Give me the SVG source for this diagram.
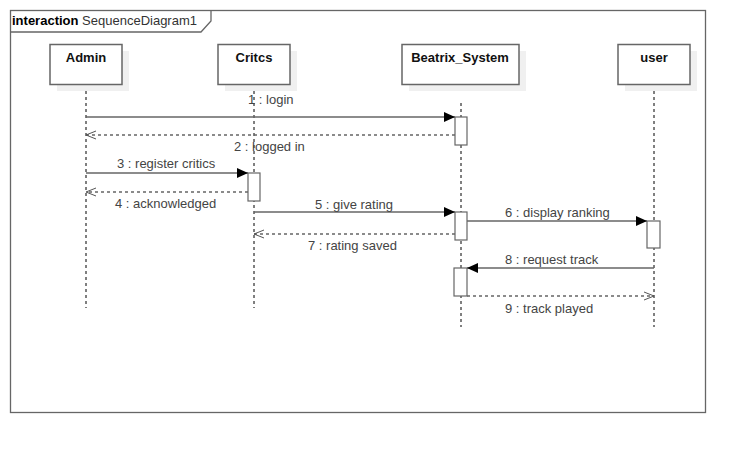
<svg xmlns="http://www.w3.org/2000/svg" width="746" height="453" viewBox="0 0 746 453">
<defs>
<marker id="filled" markerWidth="12" markerHeight="10" refX="11" refY="5" orient="auto" markerUnits="userSpaceOnUse">
<path d="M0,0 L11,5 L0,10 Z" fill="#000"/>
</marker>
<marker id="open" markerWidth="12" markerHeight="10" refX="10" refY="5" orient="auto" markerUnits="userSpaceOnUse">
<path d="M0,1 L10,5 L0,9" fill="none" stroke="#555" stroke-width="1"/>
</marker>
</defs>
<style>
text{font-family:"Liberation Sans",Arial,sans-serif;font-size:13px}
.lbl{fill:#444}
.name{font-weight:bold;fill:#111;text-anchor:middle}
.box{fill:#fff;stroke:#666;stroke-width:1.5}
.shadow{fill:#f0f0f0}
.life{stroke:#000;stroke-width:1;stroke-dasharray:3,3;fill:none}
.act{fill:#fff;stroke:#666;stroke-width:1.2}
.msg{stroke:#666;stroke-width:1.3;fill:none}
.ret{stroke:#666;stroke-width:1.3;fill:none;stroke-dasharray:3,3}
</style>
<rect width="746" height="453" fill="#fff"/>
<g id="frame">
<rect x="10.5" y="10.5" width="695" height="402" fill="none" stroke="#666" stroke-width="1.3"/>
<path d="M10.5,32 L201,32 L211,21 L211,10.5" fill="none" stroke="#666" stroke-width="1.3"/>
<text x="12" y="25" fill="#000"><tspan font-weight="bold">interaction</tspan><tspan fill="#333"> SequenceDiagram1</tspan></text>
</g>
<g id="lifelines">
<path class="life" d="M86,85 V308"/>
<path class="life" d="M254,85 V308"/>
<path class="life" d="M461,103 V327"/>
<path class="life" d="M654,85 V327"/>
</g>
<g id="Admin">
<rect class="shadow" x="57" y="51" width="72" height="40"/>
<rect class="box" x="50" y="44.5" width="72" height="40"/>
<text class="name" x="86" y="62">Admin</text>
</g>
<g id="Critcs">
<rect class="shadow" x="225" y="51" width="72" height="40"/>
<rect class="box" x="218" y="44.5" width="72" height="40"/>
<text class="name" x="254" y="62">Critcs</text>
</g>
<g id="Beatrix_System">
<rect class="shadow" x="409" y="51" width="117" height="40"/>
<rect class="box" x="402" y="44.5" width="117" height="40"/>
<text class="name" x="460" y="62">Beatrix_System</text>
</g>
<g id="user">
<rect class="shadow" x="625" y="51" width="72" height="40"/>
<rect class="box" x="618" y="44.5" width="72" height="40"/>
<text class="name" x="654" y="62">user</text>
</g>
<g id="activations">
<rect class="act" x="455" y="117" width="12" height="28"/>
<rect class="act" x="248" y="173" width="12" height="28"/>
<rect class="act" x="455" y="212" width="12" height="28"/>
<rect class="act" x="647" y="221" width="13" height="27"/>
<rect class="act" x="454" y="268" width="13" height="28"/>
</g>
<g id="connectors">
<path class="msg" d="M86,117 H455" marker-end="url(#filled)"/>
<path class="ret" d="M455,135 H86" marker-end="url(#open)"/>
<path class="msg" d="M86,173 H248" marker-end="url(#filled)"/>
<path class="ret" d="M248,192 H86" marker-end="url(#open)"/>
<path class="msg" d="M254,212 H455" marker-end="url(#filled)"/>
<path class="msg" d="M467,221 H647" marker-end="url(#filled)"/>
<path class="ret" d="M455,234 H254" marker-end="url(#open)"/>
<path class="msg" d="M654,268 H467" marker-end="url(#filled)"/>
<path class="ret" d="M467,296 H654" marker-end="url(#open)"/>
</g>
<g id="labels">
<text class="lbl" x="248" y="104">1 : login</text>
<text class="lbl" x="234" y="151">2 : logged in</text>
<text class="lbl" x="117" y="168">3 : register critics</text>
<text class="lbl" x="115" y="208">4 : acknowledged</text>
<text class="lbl" x="315" y="209">5 : give rating</text>
<text class="lbl" x="505" y="217">6 : display ranking</text>
<text class="lbl" x="308" y="250">7 : rating saved</text>
<text class="lbl" x="505" y="264">8 : request track</text>
<text class="lbl" x="505" y="313">9 : track played</text>
</g>
</svg>
